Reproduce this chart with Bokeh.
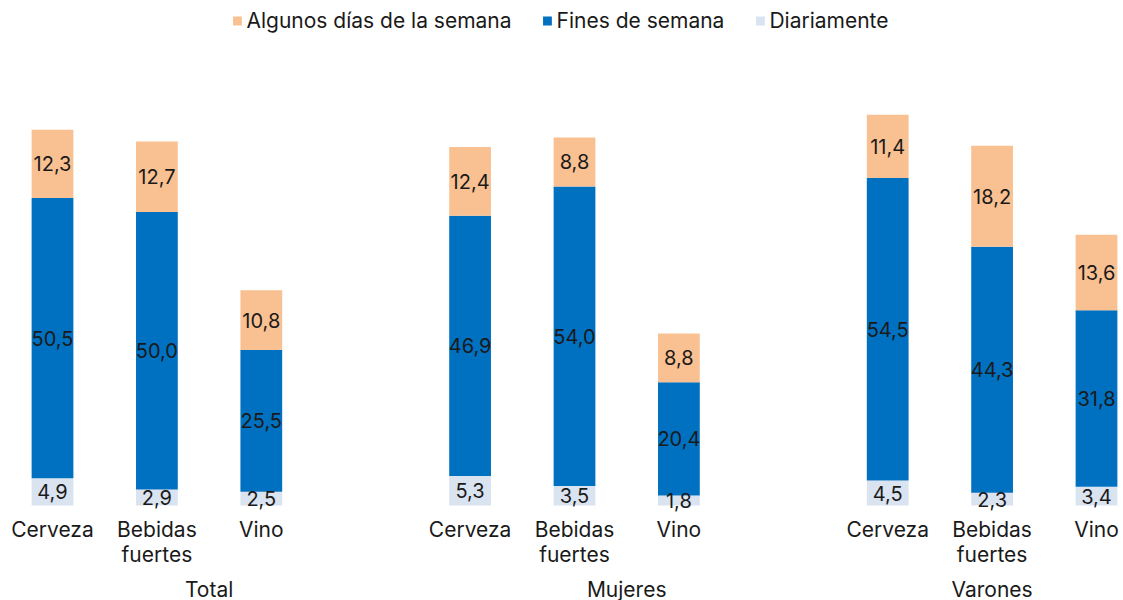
from bokeh.plotting import figure
from bokeh.models import (ColumnDataSource, Range1d, FixedTicker, LinearAxis,
                          Legend, LegendItem)
from bokeh.core.properties import value
from bokeh.embed import file_html
from bokeh.resources import INLINE

# ---- data ----
groups = ["Total", "Mujeres", "Varones"]
categories = ["Cerveza", "Bebidas\nfuertes", "Vino"]
series_names = ["Algunos días de la semana", "Fines de semana", "Diariamente"]
diariamente = [4.9, 2.9, 2.5, 5.3, 3.5, 1.8, 4.5, 2.3, 3.4]
fines_semana = [50.5, 50.0, 25.5, 46.9, 54.0, 20.4, 54.5, 44.3, 31.8]
algunos_dias = [12.3, 12.7, 10.8, 12.4, 8.8, 8.8, 11.4, 18.2, 13.6]

# ---- styles ----
C_ALG = "#F9C191"
C_FIN = "#0070C0"
C_DIA = "#DAE3F0"
FONT = "Inter"
TXT = "#1a1a1a"

# positions: each group takes 3 slots + 1 gap slot
xs = [g * 4 + c for g in range(len(groups)) for c in range(len(categories))]
group_pos = [sum(xs[g * 3:(g + 1) * 3]) / 3 + (0.5 if g < len(groups) - 1 else 0)
             for g in range(len(groups))]

d0 = [0] * len(xs)
d1 = diariamente
d2 = [a + b for a, b in zip(diariamente, fines_semana)]
d3 = [a + b for a, b in zip(d2, algunos_dias)]

fmt = lambda v: f"{v:.1f}".replace(".", ",")

src = ColumnDataSource(dict(
    x=xs, b0=d0, t0=d1, b1=d1, t1=d2, b2=d2, t2=d3,
    m0=[(a + b) / 2 for a, b in zip(d0, d1)],
    m1=[(a + b) / 2 for a, b in zip(d1, d2)],
    m2=[(a + b) / 2 for a, b in zip(d2, d3)],
    l0=[fmt(v) for v in diariamente],
    l1=[fmt(v) for v in fines_semana],
    l2=[fmt(v) for v in algunos_dias],
))

PX_PER_UNIT = 5.55
BASE_PX = 505      # baseline distance from top of frame
BELOW_PX = 7       # extra frame room under the baseline (labels overflow)
FRAME_H = BASE_PX + BELOW_PX
FRAME_W = 1120
SLOT_PX = 104.4
X0_PX = 52
p = figure(frame_width=FRAME_W, frame_height=FRAME_H,
           x_range=Range1d(-X0_PX / SLOT_PX, (FRAME_W - X0_PX) / SLOT_PX),
           y_range=Range1d(-BELOW_PX / PX_PER_UNIT, BASE_PX / PX_PER_UNIT),
           output_backend="svg", toolbar_location=None,
           min_border_left=0, min_border_right=0, min_border_top=0,
           min_border_bottom=0, x_axis_location=None, y_axis_location=None)
p.outline_line_color = None
p.grid.visible = False
p.background_fill_color = "white"
p.border_fill_color = "white"

W = 0.4
r_dia = p.vbar(x="x", bottom="b0", top="t0", width=W, source=src,
               fill_color=C_DIA, line_color=None)
r_fin = p.vbar(x="x", bottom="b1", top="t1", width=W, source=src,
               fill_color=C_FIN, line_color=None)
r_alg = p.vbar(x="x", bottom="b2", top="t2", width=W, source=src,
               fill_color=C_ALG, line_color=None)

for m, l in (("m0", "l0"), ("m1", "l1"), ("m2", "l2")):
    p.text(x="x", y=m, text=l, source=src, text_align="center",
           text_baseline="middle", text_font=value(FONT),
           text_font_size="20px", text_color=TXT)

ax1 = LinearAxis(ticker=FixedTicker(ticks=xs),
                 major_label_overrides={x: categories[i % 3] for i, x in enumerate(xs)})
ax2 = LinearAxis(ticker=FixedTicker(ticks=group_pos),
                 major_label_overrides={x: groups[i] for i, x in enumerate(group_pos)})
for ax, so in ((ax1, 11 - BELOW_PX), (ax2, 7)):
    ax.axis_line_color = None
    ax.major_tick_line_color = None
    ax.minor_tick_line_color = None
    ax.major_tick_out = 0
    ax.major_tick_in = 0
    ax.major_label_standoff = so
    ax.major_label_text_font = FONT
    ax.major_label_text_font_size = "21px"
    ax.major_label_text_line_height = 1.0
    ax.major_label_text_color = TXT
    ax.major_label_orientation = "horizontal"
p.add_layout(ax1, "below")
p.add_layout(ax2, "below")

legend = Legend(items=[LegendItem(label=series_names[0], renderers=[r_alg]),
                       LegendItem(label=series_names[1], renderers=[r_fin]),
                       LegendItem(label=series_names[2], renderers=[r_dia])],
                orientation="horizontal", location="top_center",
                label_text_font=FONT, label_text_font_size="21px",
                label_text_color=TXT, glyph_width=11, glyph_height=11,
                label_standoff=4, spacing=30, padding=0, margin=8,
                border_line_color=None, background_fill_alpha=0)
p.add_layout(legend)

open("out.html", "w").write(file_html(p, INLINE))
